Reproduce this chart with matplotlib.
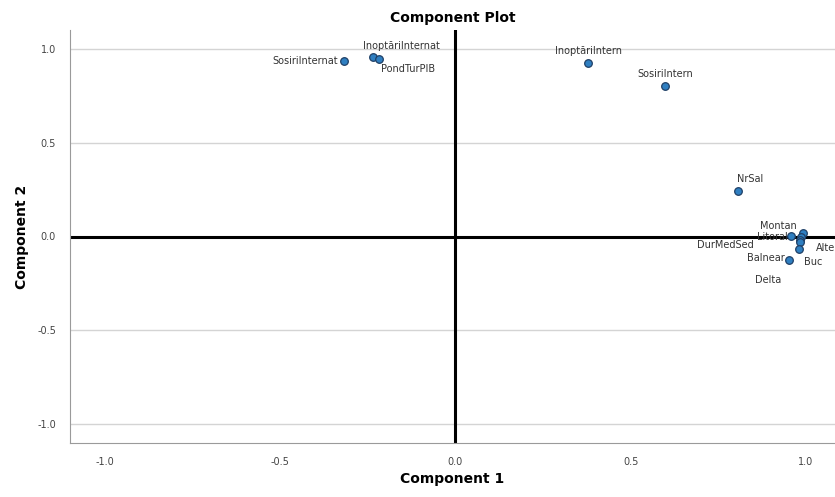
import matplotlib.pyplot as plt

# loadings
names = ['SosiriInternat', 'InoptăriInternat', 'PondTurPIB', 'InoptăriIntern', 'SosiriIntern',
         'NrSal', 'Montan', 'Litoral', 'DurMedSed', 'Altele', 'Delta', 'Buc', 'Balnear']
comp1 = [-0.319, -0.236, -0.217, 0.379, 0.598, 0.806, 0.991, 0.957, 0.986, 0.983, 0.983, 0.980, 0.952]
comp2 = [0.933, 0.955, 0.944, 0.923, 0.800, 0.245, 0.021, 0.005, 0.000, -0.021, -0.030, -0.064, -0.123]

# label offsets in pixels (dx, dy, ha)
offsets = {
    'SosiriInternat': (-6, 0, 'right'),
    'InoptăriInternat': (29, 11, 'center'),
    'PondTurPIB': (29, -10, 'center'),
    'InoptăriIntern': (0, 12, 'center'),
    'SosiriIntern': (0, 12, 'center'),
    'NrSal': (12, 12, 'center'),
    'Montan': (-24, 7, 'center'),
    'Litoral': (-3, -1, 'right'),
    'DurMedSed': (-76, -8, 'center'),
    'Altele': (16, -8, 'left'),
    'Delta': (-32, -38, 'center'),
    'Buc': (14, -13, 'center'),
    'Balnear': (-4, 2, 'right'),
}

fig = plt.figure(figsize=(8.35, 4.97), dpi=100)
ax = fig.add_axes([70 / 835, 54 / 497, 765 / 835, 413 / 497])

ax.set_xlim(-1.1, 1.083)
ax.set_ylim(-1.1, 1.1)
ax.set_xticks([-1.0, -0.5, 0.0, 0.5, 1.0])
ax.set_yticks([-1.0, -0.5, 0.0, 0.5, 1.0])
ax.set_xticklabels(['-1.0', '-0.5', '0.0', '0.5', '1.0'])
ax.set_yticklabels(['-1.0', '-0.5', '0.0', '0.5', '1.0'])
ax.tick_params(length=0, labelsize=7, colors='#444444', pad=10)
ax.grid(axis='y', color='#d4d4d4', linewidth=1)
ax.set_axisbelow(True)
for s in ['top', 'right']:
    ax.spines[s].set_visible(False)
for s in ['left', 'bottom']:
    ax.spines[s].set_color('#9a9a9a')

ax.axhline(0, color='black', linewidth=2.2, zorder=2)
ax.axvline(0, color='black', linewidth=2.2, zorder=2)

ax.scatter(comp1, comp2, s=30, color='#2f7fc1', edgecolor='#1f3f66', linewidth=0.9, zorder=3)

for n, x, y in zip(names, comp1, comp2):
    dx, dy, ha = offsets[n]
    ax.annotate(n, (x, y), xytext=(dx, dy), textcoords='offset pixels', ha=ha, va='center',
                fontsize=7, color='#333333', zorder=4, annotation_clip=False)

ax.set_title('Component Plot', fontsize=10, fontweight='bold', pad=6)
ax.set_xlabel('Component 1', fontsize=10, fontweight='bold', labelpad=4)
ax.set_ylabel('Component 2', fontsize=10, fontweight='bold', labelpad=6)

fig.savefig('out.png', dpi=100)
